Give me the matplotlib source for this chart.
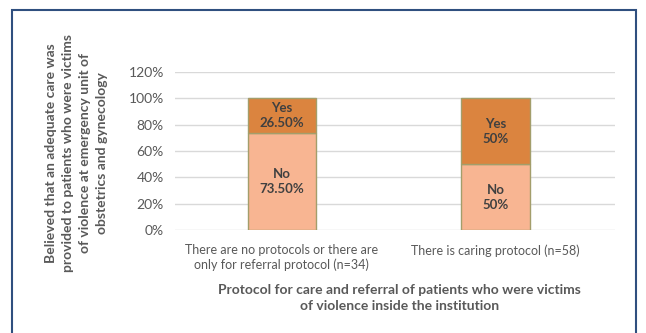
import matplotlib.pyplot as plt
from matplotlib.patches import Rectangle

categorias = ["There are no protocols or there are\nonly for referral protocol (n=34)",
              "There is caring protocol (n=58)"]
nao = [73.5, 50.0]
sim = [26.5, 50.0]
rot_nao = ["No\n73.50%", "No\n50%"]
rot_sim = ["Yes\n26.50%", "Yes\n50%"]
yticks = [0, 20, 40, 60, 80, 100, 120]

plt.rcParams['font.family'] = ['Lato', 'DejaVu Sans']

fig = plt.figure(figsize=(6.46, 3.33), dpi=100)
ax = fig.add_axes([0.271, 0.309, 0.681, 0.475])

x = [0, 1]
largura = 0.32
ax.bar(x, nao, width=largura, color='#F8B592', edgecolor='#A39E6B', linewidth=1.0, zorder=3)
ax.bar(x, sim, width=largura, bottom=nao, color='#DB843F', edgecolor='#A39E6B', linewidth=1.0, zorder=3)

for i in x:
    ax.text(i, nao[i] / 2, rot_nao[i], ha='center', va='center', fontsize=9.5,
            fontweight='bold', color='#404040', zorder=4, linespacing=1.3)
    ax.text(i, nao[i] + sim[i] / 2, rot_sim[i], ha='center', va='center', fontsize=9.5,
            fontweight='bold', color='#404040', zorder=4, linespacing=1.3)

ax.set_ylim(0, 120)
ax.set_xlim(-0.50, 1.56)
ax.set_yticks(yticks)
ax.set_yticklabels([f"{v}%" for v in yticks])
ax.set_xticks(x)
ax.set_xticklabels(categorias)
ax.tick_params(length=0, colors='#595959', labelsize=9)
ax.tick_params(axis='y', pad=8, labelsize=10)
ax.tick_params(axis='x', pad=10)
ax.grid(axis='y', color='#D9D9D9', linewidth=1.0, zorder=0)
for s in ax.spines.values():
    s.set_visible(False)

fig.text(0.118, 0.54,
         "Believed that an adequate care was\nprovided to patients who were victims\nof violence at emergency unit of\nobstetrics and gynecology",
         rotation=90, ha='center', va='center', fontsize=10, fontweight='bold',
         color='#595959', linespacing=1.5)
fig.text(0.618, 0.105,
         "Protocol for care and referral of patients who were victims\nof violence inside the institution",
         ha='center', va='center', fontsize=10, fontweight='bold', color='#595959',
         linespacing=1.4)

fig.patches.append(Rectangle((12 / 646, -0.1), (636 - 12) / 646, (323 / 333) + 0.1,
                             transform=fig.transFigure, fill=False,
                             edgecolor='#2F4F7F', linewidth=1.5))

fig.savefig("out.png", dpi=100)
